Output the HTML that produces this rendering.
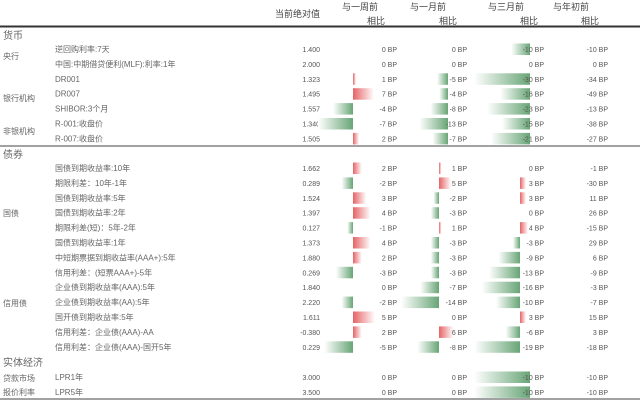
<!DOCTYPE html>
<html><head><meta charset="utf-8">
<style>
html,body{margin:0;padding:0;background:#fff;}
svg{display:block;font-family:"Liberation Sans","Noto Sans CJK SC",sans-serif;}
</style></head>
<body>
<svg id="chart" width="640" height="414" viewBox="0 0 640 414" xmlns="http://www.w3.org/2000/svg">
<defs>
<linearGradient id="gneg" x1="0" x2="1" y1="0" y2="0"><stop offset="0" stop-color="#ffffff"/><stop offset="1" stop-color="#68a576"/></linearGradient>
<linearGradient id="gpos" x1="0" x2="1" y1="0" y2="0"><stop offset="0" stop-color="#e66366"/><stop offset="1" stop-color="#ffffff"/></linearGradient>
</defs>
<g fill="#444" font-size="9">
<text x="320" y="17" text-anchor="end">当前绝对值</text>
<text x="342" y="10">与一周前</text>
<text x="385" y="24" text-anchor="end">相比</text>
<text x="410" y="10">与一月前</text>
<text x="457" y="24" text-anchor="end">相比</text>
<text x="488" y="10">与三月前</text>
<text x="538" y="24" text-anchor="end">相比</text>
<text x="553" y="10">与年初前</text>
<text x="599" y="24" text-anchor="end">相比</text>
</g>
<rect x="0" y="25.5" width="640" height="2" fill="#333"/>
<rect x="0" y="145.5" width="640" height="1" fill="#444"/>
<rect x="0" y="398.5" width="640" height="1" fill="#444"/>
<g id="body"></g>
</svg>
<script>
// Section 1: money market
const moneyLabels = ["逆回购利率:7天","中国:中期借贷便利(MLF):利率:1年","DR001","DR007","SHIBOR:3个月","R-001:收盘价","R-007:收盘价"];
const moneyValues = ["1.400","2.000","1.323","1.495","1.557","1.340","1.505"];
const moneyWeek = [0,0,1,7,-4,-7,2];
const moneyMonth = [0,0,-5,-4,-8,-13,-7];
const moneyThree = [-10,0,-30,-16,-23,-15,-21];
const moneyYear = [-10,0,-34,-49,-13,-38,-27];
// Section 2: bonds
const bondLabels = ["国债到期收益率:10年","期限利差：10年-1年","国债到期收益率:5年","国债到期收益率:2年","期限利差(短)：5年-2年","国债到期收益率:1年","中短期票据到期收益率(AAA+):5年","信用利差：(短票AAA+)-5年","企业债到期收益率(AAA):5年","企业债到期收益率(AA):5年","国开债到期收益率:5年","信用利差：企业债(AAA)-AA","信用利差：企业债(AAA)-国开5年"];
const bondValues = ["1.662","0.289","1.524","1.397","0.127","1.373","1.880","0.269","1.840","2.220","1.611","-0.380","0.229"];
const bondWeek = [2,-2,3,4,-1,4,2,-3,0,-2,5,2,-5];
const bondMonth = [1,5,-2,-3,1,-3,-3,-3,-7,-14,0,6,-8];
const bondThree = [0,3,3,0,4,-3,-9,-13,-16,-10,3,-6,-19];
const bondYear = [-1,-30,11,26,-15,29,6,-9,-3,-7,15,3,-18];
// Section 3: real economy
const lprLabels = ["LPR1年","LPR5年"];
const lprValues = ["3.000","3.500"];
const lprWeek = [0,0];
const lprMonth = [0,0];
const lprThree = [-10,-10];
const lprYear = [-10,-10];

const NS="http://www.w3.org/2000/svg";
const body=document.getElementById('body');
function mk(tag,attrs){const e=document.createElementNS(NS,tag);for(const k in attrs)e.setAttribute(k,attrs[k]);body.appendChild(e);return e;}
function txt(x,y,s,size,anchor,fill){const t=mk('text',{x:x,y:y,'font-size':size,'text-anchor':anchor||'start',fill:fill||'#666'});t.textContent=s;return t;}
// axis function: per section/column axis position and px per BP
function barScale(axis,posK,negK){return v=>v>=0?{x:axis,w:v*posK}:{x:axis+v*negK,w:-v*negK};}

const cols=[{textX:397},{textX:467},{textX:544},{textX:608}];
function drawSection(labels,values,series,rowY0,scales,name){
  labels.forEach((lab,i)=>{
    const y=rowY0+i*14.9;
    const l=txt(55,y+3,lab,8,'start','#666');
    
    
    const v=txt(320,y+3,values[i],7,'end','#555');
    
    
    series.forEach((arr,c)=>{
      const val=arr[i];
      if(scales[c] && val!==0){
        const b=scales[c](val);
        const r=mk('rect',{x:b.x,y:y-5.5,width:Math.max(b.w,1.5),height:11.5,fill:val>0?'url(#gpos)':'url(#gneg)'});
        
        
      }
      const t=txt(cols[c].textX,y+3,val+' BP',7,'end','#555');
      
      
    });
  });
}
[[3,39,'货币',10,'section-money'],[3,158,'债券',10,'section-bonds'],[3,366,'实体经济',10,'section-real-economy'],
 [3,59,'央行',8,'group-central-bank'],[3,101,'银行机构',8,'group-banks'],[3,134,'非银机构',8,'group-nonbanks'],
 [3,216,'国债',8,'group-treasury'],[3,306,'信用债',8,'group-credit'],[3,381,'贷款市场',8,'group-loan-market'],[3,395,'报价利率',8,'group-quote-rate']
].forEach(a=>{const t=txt(a[0],a[1],a[2],a[3],'start','#666');
 
 });

drawSection(moneyLabels,moneyValues,[moneyWeek,moneyMonth,moneyThree,moneyYear],49,
 [barScale(353,3,5),barScale(448,2.2,2.2),barScale(530,1.9,1.87),null],'money');
drawSection(bondLabels,bondValues,[bondWeek,bondMonth,bondThree,bondYear],168,
 [barScale(353,4.4,5.7),barScale(439,2.4,2.7),barScale(520,2,2.4),null],'bond');
drawSection(lprLabels,lprValues,[lprWeek,lprMonth,lprThree,lprYear],377,
 [barScale(353,3,5),barScale(448,2.2,2.2),barScale(530,5.6,5.6),null],'lpr');
</script>
</body></html>
